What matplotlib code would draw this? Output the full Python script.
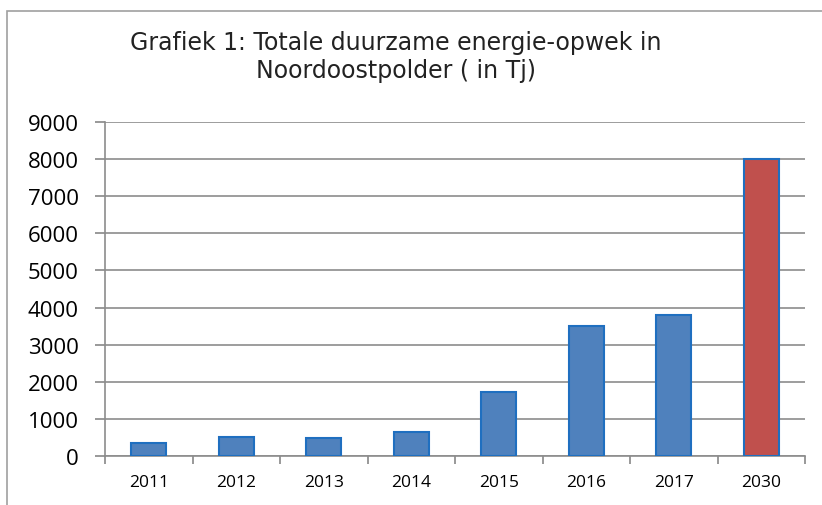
import matplotlib.pyplot as plt
import numpy as np
from matplotlib.patches import Rectangle

years = ['2011', '2012', '2013', '2014', '2015', '2016', '2017', '2030']
values = [340, 520, 495, 640, 1725, 3500, 3800, 8000]
colors = ['#4f81bd'] * 7 + ['#c0504d']
yticks = list(range(0, 9001, 1000))

fig = plt.figure(figsize=(8.22, 5.06), dpi=100)
ax = fig.add_axes([105 / 822, 1 - 457 / 506, 700 / 822, 334 / 506])

x = np.arange(len(years))
ax.bar(x, values, width=0.4, color=colors, edgecolor='#1f6fc0', linewidth=1.5, zorder=3)

ax.set_xlim(-0.5, len(years) - 0.5)
ax.set_ylim(0, 9000)
ax.set_yticks(yticks)
ax.set_yticklabels([str(v) for v in yticks], fontsize=16, family='Open Sans')
ax.set_xticks(x)
ax.set_xticklabels(years, fontsize=12.5, family='Open Sans')
ax.tick_params(axis='x', which='major', length=0, pad=13)
ax.set_xticks(np.arange(-0.5, len(years)), minor=True)
ax.tick_params(axis='x', which='minor', length=6, color='#888888', width=1.2)
ax.tick_params(axis='y', length=7, color='#888888', width=1.2, pad=12)

ax.grid(axis='y', color='#8c8c8c', linewidth=1.2, zorder=0)
for s in ['top', 'right']:
    ax.spines[s].set_visible(False)
for s in ['left', 'bottom']:
    ax.spines[s].set_color('#8c8c8c')
    ax.spines[s].set_linewidth(1.2)

# chart border
fig.patches.append(Rectangle((7 / 822, -0.2), 1.2, 1.2 - 12 / 506, transform=fig.transFigure,
                             fill=False, edgecolor='#a0a0a0', linewidth=1.2))

fig.text(396 / 822, 1 - 50 / 506, 'Grafiek 1: Totale duurzame energie-opwek in',
         ha='center', va='baseline', fontsize=17, family='DejaVu Sans', color='#222222')
fig.text(396 / 822, 1 - 78 / 506, 'Noordoostpolder ( in Tj)',
         ha='center', va='baseline', fontsize=17, family='DejaVu Sans', color='#222222')

fig.savefig('out.png', dpi=100)
